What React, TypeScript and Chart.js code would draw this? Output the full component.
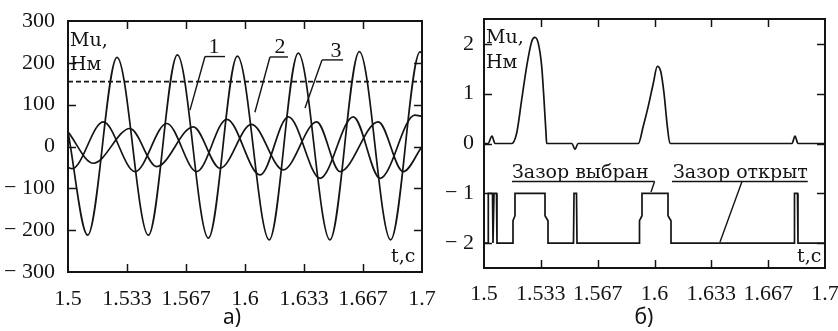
import React, { useEffect, useRef } from "react";
import { Chart, registerables } from "chart.js";

Chart.register(...registerables);

// ---------------- data ----------------
const TIME_TICKS = [1.5, 1.53333, 1.56667, 1.6, 1.63333, 1.66667, 1.7];
const TIME_TICK_LABELS = ["1.5", "1.533", "1.567", "1.6", "1.633", "1.667", "1.7"];

const TORQUE_TICKS = [-300, -200, -100, 0, 100, 200, 300];
const TORQUE_TICK_LABELS = ["− 300", "− 200", "− 100", "0", "100", "200", "300"];

const GAP_TICKS = [-2, -1, 0, 1, 2];
const GAP_TICK_LABELS = ["− 2", "− 1", "0", "1", "2"];

// panel a) curve 1 (large oscillation)
const CURVE1_T = [1.5, 1.5111, 1.5277, 1.5454, 1.5618, 1.5793, 1.5957, 1.6137, 1.6301, 1.648, 1.6646, 1.6823, 1.6989, 1.7];
const CURVE1_M = [35, -212, 213, -212, 219, -219, 216, -223, 223, -223, 227, -223, 226, 224];

// panel a) curve 2
const CURVE2_T = [1.5, 1.5143, 1.535, 1.5501, 1.5708, 1.5859, 1.6037, 1.6216, 1.6405, 1.6537, 1.6753, 1.6894, 1.7];
const CURVE2_M = [35, -40, 43, -48, 47, -52, 53, -56, 59, -60, 59, -60, 0];

// panel a) curve 3
const CURVE3_T = [1.5, 1.5023, 1.5199, 1.5379, 1.5558, 1.5727, 1.5897, 1.6085, 1.6245, 1.6424, 1.6612, 1.6763, 1.696, 1.7];
const CURVE3_M = [-50, -53, 59, -60, 55, -60, 65, -68, 71, -76, 71, -76, 75, 72];

// panel a) dashed level
const LEVEL_T = [1.5, 1.7];
const LEVEL_M = [155, 155];

// panel б) torque in the gap
const GAP_T = [1.5, 1.50235, 1.50469, 1.50645, 1.51625, 1.51918, 1.52211, 1.52504, 1.52798, 1.52991, 1.53185, 1.53384, 1.53519, 1.53636, 1.53677, 1.55161, 1.55337, 1.55513, 1.5905, 1.59343, 1.59636, 1.5993, 1.60164, 1.60364, 1.60557, 1.60751, 1.60909, 1.68065, 1.6824, 1.68416, 1.7];
const GAP_M = [0, 0, 0.15, 0, 0, 0.21, 0.88, 1.55, 2.05, 2.13, 2.01, 1.55, 0.88, 0.21, 0, 0, -0.12, 0, 0, 0.35, 0.75, 1.21, 1.55, 1.45, 1.01, 0.35, 0, 0, 0.15, 0, 0];

// panel б) gap state (-1 closed / -2 open)
const STATE_T = [1.5, 1.50235, 1.50252, 1.50499, 1.50528, 1.50557, 1.50587, 1.50733, 1.50762, 1.51701, 1.51701, 1.51818, 1.51818, 1.53578, 1.53578, 1.53754, 1.53754, 1.55249, 1.55279, 1.55425, 1.55455, 1.5912, 1.5912, 1.59267, 1.59267, 1.60792, 1.60792, 1.60968, 1.60968, 1.68182, 1.68211, 1.68387, 1.68416, 1.7];
const STATE_V = [-2, -2, -1, -1, -2, -2, -1, -1, -2, -2, -1.55, -1.45, -1, -1, -1.45, -1.55, -2, -2, -1, -1, -2, -2, -1.55, -1.45, -1, -1, -1.45, -1.55, -2, -2, -1, -1, -2, -2];

// ---------------- helpers ----------------
const INK = "#141414";
const SERIF = "'Liberation Serif', 'Times New Roman', 'DejaVu Serif', serif";
const NOTE_SERIF = "'DejaVu Serif', 'Liberation Serif', serif";
const TICK_FONT = { family: SERIF, size: 22 };
const NOTE_FONT = "19px " + NOTE_SERIF;

function pts(ts: number[], vs: number[]) {
  return ts.map((t, i) => ({ x: t, y: vs[i] }));
}

function labelFor(values: number[], labels: string[], v: number) {
  const i = values.findIndex((a) => Math.abs(a - v) < 1e-4);
  return i >= 0 ? labels[i] : "";
}

function fontsReady(): Promise<unknown> {
  const f: any = (document as any).fonts;
  if (!f || !f.load) return Promise.resolve();
  return Promise.all([
    f.load("22px 'Liberation Serif'"),
    f.load("19px 'DejaVu Serif'"),
    f.load("21px 'Noto Sans'"),
  ]).catch(() => undefined);
}

function framePlugin(innerX: number[], innerY: number[], decorate: (ctx: CanvasRenderingContext2D, px: (t: number) => number, py: (v: number) => number, area: any) => void) {
  return {
    id: "frame",
    afterDatasetsDraw(chart: any) {
      const { ctx, chartArea: a, scales } = chart;
      const px = (t: number) => scales.x.getPixelForValue(t);
      const py = (v: number) => scales.y.getPixelForValue(v);
      const TL = 8;
      ctx.save();
      ctx.strokeStyle = INK;
      ctx.lineWidth = 2;
      ctx.strokeRect(a.left, a.top, a.right - a.left, a.bottom - a.top);
      ctx.lineWidth = 1.5;
      ctx.beginPath();
      for (const v of innerX) {
        const x = Math.round(px(v)) + 0.5;
        ctx.moveTo(x, a.top);
        ctx.lineTo(x, a.top + TL);
        ctx.moveTo(x, a.bottom);
        ctx.lineTo(x, a.bottom - TL);
      }
      for (const v of innerY) {
        const y = Math.round(py(v)) + 0.5;
        ctx.moveTo(a.left, y);
        ctx.lineTo(a.left + TL, y);
        ctx.moveTo(a.right, y);
        ctx.lineTo(a.right - TL, y);
      }
      ctx.stroke();
      ctx.fillStyle = INK;
      decorate(ctx, px, py, a);
      ctx.restore();
    },
  };
}

function line(ctx: CanvasRenderingContext2D, x1: number, y1: number, x2: number, y2: number, w = 1.4) {
  ctx.lineWidth = w;
  ctx.beginPath();
  ctx.moveTo(x1, y1);
  ctx.lineTo(x2, y2);
  ctx.stroke();
}

function xScale(afterH: number, pad: number) {
  return {
    type: "linear" as const,
    min: 1.5,
    max: 1.7,
    afterBuildTicks: (s: any) => {
      s.ticks = TIME_TICKS.map((v) => ({ value: v }));
    },
    ticks: {
      autoSkip: false,
      maxRotation: 0,
      padding: pad,
      color: INK,
      font: TICK_FONT,
      callback: (v: any) => labelFor(TIME_TICKS, TIME_TICK_LABELS, Number(v)),
    },
    grid: { display: false },
    border: { display: false },
    afterFit: (s: any) => {
      s.height = afterH;
      s.paddingLeft = 0;
      s.paddingRight = 0;
    },
  };
}

function yScale(min: number, max: number, ticks: number[], labels: string[], width: number, pad: number) {
  return {
    min,
    max,
    afterBuildTicks: (s: any) => {
      s.ticks = ticks.map((v) => ({ value: v }));
    },
    ticks: {
      autoSkip: false,
      padding: pad,
      color: INK,
      font: TICK_FONT,
      callback: (v: any) => labelFor(ticks, labels, Number(v)),
    },
    grid: { display: false },
    border: { display: false },
    afterFit: (s: any) => {
      s.width = width;
      s.paddingTop = 0;
      s.paddingBottom = 0;
    },
  };
}

const curveStyle = {
  borderColor: INK,
  borderWidth: 1.7,
  pointRadius: 0,
  fill: false,
  cubicInterpolationMode: "monotone" as const,
};

// ---------------- panel a) ----------------
function PanelA() {
  const ref = useRef<HTMLCanvasElement>(null);
  useEffect(() => {
    let chart: Chart | null = null;
    let dead = false;
    fontsReady().then(() => {
      if (dead || !ref.current) return;
      chart = new Chart(ref.current, {
        type: "line",
        data: {
          datasets: [
            { ...curveStyle, data: pts(CURVE1_T, CURVE1_M) },
            { ...curveStyle, data: pts(CURVE2_T, CURVE2_M) },
            { ...curveStyle, data: pts(CURVE3_T, CURVE3_M) },
            { ...curveStyle, borderWidth: 1.6, borderDash: [5, 3], data: pts(LEVEL_T, LEVEL_M) },
          ],
        },
        options: {
          animation: false,
          responsive: false,
          maintainAspectRatio: false,
          devicePixelRatio: 1,
          layout: { padding: { left: 0, right: 18, top: 21, bottom: 0 } },
          plugins: { legend: { display: false }, tooltip: { enabled: false } },
          scales: {
            x: xScale(59, 6) as any,
            y: yScale(-300, 300, TORQUE_TICKS, TORQUE_TICK_LABELS, 68, 5) as any,
          },
        },
        plugins: [
          framePlugin(TIME_TICKS.slice(1, -1), TORQUE_TICKS.slice(1, -1), (ctx, px, py, a) => {
            ctx.font = NOTE_FONT;
            ctx.textAlign = "left";
            ctx.textBaseline = "alphabetic";
            ctx.fillText("Mu,", a.left + 2, a.top + 25);
            ctx.fillText("Нм", a.left + 2, a.top + 49);
            ctx.fillText("t,c", a.right - 31, a.bottom - 10);
            ctx.font = "22px " + SERIF;
            ctx.textAlign = "center";
            // label 1
            ctx.fillText("1", px(1.5825), py(223.5));
            line(ctx, px(1.5774), py(215), px(1.5887), py(215));
            line(ctx, px(1.5774), py(215), px(1.5689), py(87));
            // label 2
            ctx.fillText("2", px(1.6198), py(223.5));
            line(ctx, px(1.6141), py(214), px(1.6243), py(214));
            line(ctx, px(1.6141), py(214), px(1.6056), py(82));
            // label 3
            ctx.fillText("3", px(1.6514), py(214));
            line(ctx, px(1.6435), py(207), px(1.6554), py(207));
            line(ctx, px(1.6435), py(207), px(1.6339), py(92));
          }) as any,
        ],
      });
    });
    return () => {
      dead = true;
      if (chart) chart.destroy();
    };
  }, []);
  return <canvas ref={ref} width={440} height={331} style={{ position: "absolute", left: 0, top: 0, width: 440, height: 331 }} />;
}

// ---------------- panel б) ----------------
function PanelB() {
  const ref = useRef<HTMLCanvasElement>(null);
  useEffect(() => {
    let chart: Chart | null = null;
    let dead = false;
    fontsReady().then(() => {
      if (dead || !ref.current) return;
      chart = new Chart(ref.current, {
        type: "line",
        data: {
          datasets: [
            { ...curveStyle, data: pts(GAP_T, GAP_M) },
            { ...curveStyle, cubicInterpolationMode: "default" as const, tension: 0, data: pts(STATE_T, STATE_V) },
          ],
        },
        options: {
          animation: false,
          responsive: false,
          maintainAspectRatio: false,
          devicePixelRatio: 1,
          layout: { padding: { left: 0, right: 13, top: 19, bottom: 0 } },
          plugins: { legend: { display: false }, tooltip: { enabled: false } },
          scales: {
            x: xScale(63, 5) as any,
            y: yScale(-2.5, 2.5, GAP_TICKS, GAP_TICK_LABELS, 44, 2) as any,
          },
        },
        plugins: [
          framePlugin(TIME_TICKS.slice(1, -1), GAP_TICKS, (ctx, px, py, a) => {
            ctx.font = NOTE_FONT;
            ctx.textAlign = "left";
            ctx.textBaseline = "alphabetic";
            ctx.fillText("Mu,", a.left + 2, a.top + 24);
            ctx.fillText("Нм", a.left + 2, a.top + 49);
            ctx.fillText("t,c", a.right - 28, a.bottom - 6);
            // "Зазор выбран"
            const x1 = px(1.51642);
            const yb = py(-0.693);
            const yu = py(-0.763);
            ctx.fillText("Зазор выбран", x1, yb);
            const w1 = ctx.measureText("Зазор выбран").width;
            line(ctx, x1, yu, x1 + w1 + 6, yu);
            line(ctx, x1 + w1 + 6, yu, px(1.59795), py(-0.974));
            // "Зазор открыт"
            const x2 = px(1.61085);
            ctx.fillText("Зазор открыт", x2, yb);
            const w2 = ctx.measureText("Зазор открыт").width;
            line(ctx, x2 - 1, yu, x2 + w2, yu);
            line(ctx, px(1.65132), yu, px(1.63842), py(-1.978));
          }) as any,
        ],
      });
    });
    return () => {
      dead = true;
      if (chart) chart.destroy();
    };
  }, []);
  return <canvas ref={ref} width={398} height={331} style={{ position: "absolute", left: 440, top: 0, width: 398, height: 331 }} />;
}

const captionStyle: React.CSSProperties = {
  position: "absolute",
  top: 306,
  width: 60,
  textAlign: "center",
  fontFamily: "'Noto Sans', sans-serif",
  fontSize: 21,
  lineHeight: "21px",
  color: INK,
};

export default function App() {
  return (
    <div style={{ position: "absolute", left: 0, top: 0, width: 838, height: 331, background: "#fff", overflow: "hidden" }}>
      <PanelA />
      <PanelB />
      <div style={{ ...captionStyle, left: 202 }}>а)</div>
      <div style={{ ...captionStyle, left: 614 }}>б)</div>
    </div>
  );
}
